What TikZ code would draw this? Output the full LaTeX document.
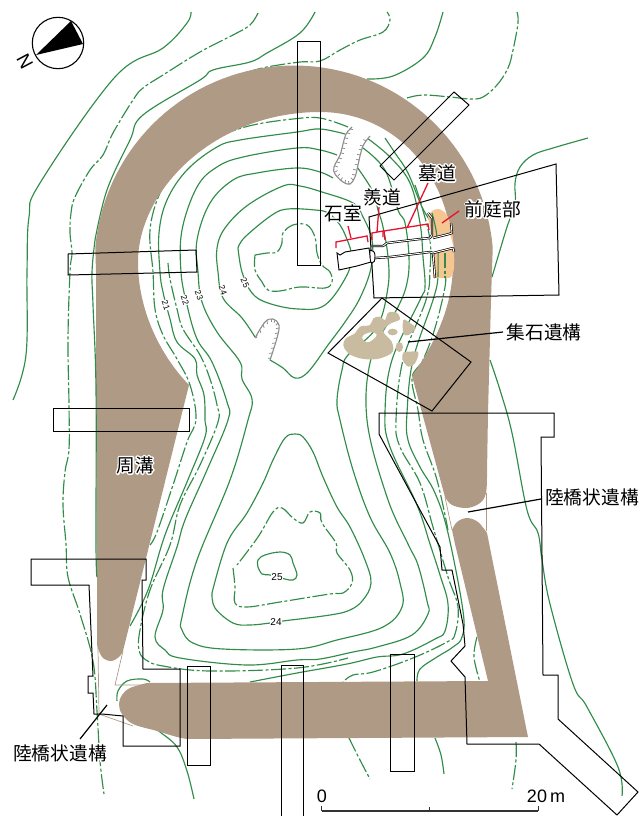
\documentclass[tikz,border=0pt]{standalone}
\usepackage{fontspec}
\setmainfont{Liberation Sans}
\newfontfamily\jp{Noto Sans CJK JP}
\definecolor{moat}{RGB}{175,154,133}
\definecolor{peach}{RGB}{245,198,146}
\definecolor{stonec}{RGB}{200,187,160}
\definecolor{cgreen}{RGB}{48,140,72}
\definecolor{redl}{RGB}{232,17,45}
\newcommand{\halotext}[1]{\leavevmode\rlap{\special{pdf:code 1 1 1 RG 1 1 1 rg 3 w 1 j 2 Tr}#1\special{pdf:code 0 Tr 0 0 0 RG 0 0 0 rg 1 w}}#1}
\tikzset{
 cline/.style={draw=cgreen,line width=1.15pt,line join=round},
 cdash/.style={cline,dash pattern=on 15pt off 2.5pt on 3pt off 2.5pt},
 trench/.style={draw=black,line width=1pt,line join=miter},
 redline/.style={draw=redl,line width=1.3pt},
 leader/.style={draw=black,line width=1.2pt},
 jplabel/.style={font=\jp\fontsize{18.7}{19}\selectfont,inner sep=0pt},
 height/.style={font=\fontsize{8.5}{9}\selectfont,fill=white,inner sep=.6pt},
 gully/.style={draw=gray!90,line width=1.1pt},
 gtick/.style={draw=gray!90,line width=.75pt},
 wall/.style={draw=black,line width=.7pt,double=white,double distance=.9pt,line join=round},
 smoothp/.style={smooth,tension=.62},
}
\begin{document}
\begin{tikzpicture}[x=1pt,y=-1pt]
\useasboundingbox (0,0) rectangle (641,816);
% contours: outer
\draw[cline] plot[smoothp] coordinates {(191,12)(187,23)(163,48)(115,77)(40,183)(29,217)(27,272)(26,355)(13,400)};
\draw[cdash] plot[smoothp] coordinates {(258,13)(250,25)(233,35)(200,52)(163,75)(143,88)(133,100)(113,133)(103,155)(90,170)(75,197)(71,213)(70,233)(72,253)(70,272)(68,339)(69,405)(69,449)(65,472)(63,505)(66,544)(68,577)(80,614)(93,661)(97,711)(100,761)(104,794)};
\draw[cline] plot[smoothp] coordinates {(315,12)(300,33)(267,53)(250,62)(213,70)(200,80)(143,115)(130,140)(107,190)(95,240)};
\draw[cdash] plot[smoothp] coordinates {(248,72)(267,67)(300,62)(320,61)(340,50)(360,40)(383,32)(390,20)(387,12)};
\draw[cline] plot[smoothp] coordinates {(443,12)(435,37)(423,58)(393,76)(367,79)};
\draw[cdash] plot[smoothp] coordinates {(407,98)(423,95)(450,97)(470,99)(483,97)(497,85)(508,68)(513,50)(518,23)(517,12)};
\draw[cline] plot[smoothp] coordinates {(588,138)(553,148)(533,155)(520,167)(515,183)(515,203)(507,227)(500,250)(492,277)};
\draw[cline] plot[smoothp] coordinates {(490,360)(500,390)(512,433)(527,510)(538,533)(542,560)(550,604)(573,684)(587,707)(618,767)(622,796)};
% left arcs round the round mound
\draw[cdash] plot[smoothp] coordinates {(348,127)(320,118)(293,119)(253,125)(223,135)(200,150)(177,170)(160,193)(150,230)(153,272)(155,309)(163,335)(177,359)(190,385)(196,419)(187,442)(173,485)(157,532)(150,545)};
\draw[cline] plot[smoothp] coordinates {(345,134)(320,129)(297,132)(240,140)(217,147)(187,170)(167,200)(159,233)(160,272)(163,292)(170,319)(177,342)(195,359)(197,375)(204,395)(205,420)(205,437)(187,482)(165,535)(148,590)(130,626)};
\draw[cdash] plot[smoothp] coordinates {(168,263)(170,279)(177,309)(183,329)(200,355)(210,379)(217,405)(218,422)(200,465)(180,505)(170,545)(150,590)(140,630)(139,650)(146,660)(163,666)(210,671)(297,668)(348,658)};
\draw[cline] plot[smoothp] coordinates {(337,155)(320,150)(297,148)(243,157)(217,167)(197,187)(182,230)(181,272)(187,305)(197,339)(212,362)(227,402)(228,420)(207,470)(185,520)(177,547)(163,590)(163,610)(155,637)(165,650)(180,658)(247,665)(297,660)(320,659)(353,652)(377,647)(412,635)(428,614)(427,601)(418,565)(408,544)(387,497)(367,420)(372,355)(398,307)(407,283)(409,257)(405,223)(398,210)(385,170)(363,148)};
\draw[cline] plot[smoothp] coordinates {(333,178)(320,172)(297,168)(257,173)(233,180)(210,203)(197,240)(198,272)(202,302)(217,332)(240,362)(242,379)(252,399)(248,420)(230,480)(197,560)(182,617)(182,630)(193,643)(223,649)(297,649)(337,640)(383,627)(402,607)(400,583)(390,553)(370,517)(353,470)(340,420)(337,400)(342,370)(348,355)(377,327)(388,287)(388,257)(383,227)(378,210)(372,190)(357,167)};
\draw[cline] plot[smoothp] coordinates {(255,337)(242,318)(223,298)(218,272)(217,248)(225,228)(248,205)(283,186)(300,186)(322,192)(353,203)(363,217)(372,240)(371,268)(360,298)(345,322)(328,345)(308,372)(295,378)(283,368)(270,360)};
\draw[cline] plot[smoothp] coordinates {(238,248)(245,237)(272,215)(288,209)(315,210)(328,213)(340,225)(348,242)(351,255)(347,275)(325,305)(298,309)(268,303)(252,293)(242,272)(238,248)};
\draw[cdash] plot[smoothp] coordinates {(255,255)(267,253)(277,252)(282,243)(283,233)(293,225)(307,225)(315,237)(317,253)(322,265)(330,272)(332,282)(325,288)(300,287)(280,291)(268,290)(262,282)(255,270)(255,255)};
% right side descending
\draw[cline] plot[smoothp] coordinates {(367,138)(390,157)(410,183)(420,223)(423,257)(425,287)(420,300)(392,360)(385,413)(390,447)(417,505)(430,544)(440,575)(448,604)(445,631)(435,639)(403,654)(377,657)(347,664)(297,673)(250,682)};
\draw[cline] plot[smoothp] coordinates {(150,682)(143,679)(127,681)(118,691)(117,701)};
\draw[cline] plot[smoothp] coordinates {(385,138)(395,153)(408,173)(422,207)(435,230)(438,250)(438,277)(433,300)(413,360)(407,413)(408,440)(420,467)(435,493)(448,533)(463,611)(462,637)(453,647)(437,657)(420,669)(417,681)};
\draw[cdash] plot[smoothp] coordinates {(415,185)(422,207)(430,240)(430,270)(426,300)(403,360)(396,420)(400,447)(420,483)(433,527)(448,577)(458,607)(455,634)(447,642)(413,658)(373,672)(353,675)(343,682)};
\draw[cdash] plot[smoothp] coordinates {(445,253)(445,270)(445,287)(435,328)(423,360)(412,378)(418,410)(423,440)(437,480)(448,530)};
\draw[cdash] plot[smoothp] coordinates {(477,637)(474,657)(480,682)};
% lower mound
\draw[cline] plot[smoothp] coordinates {(258,567)(258,560)(265,555)(280,552)(290,555)(293,563)(297,575)(293,580)(285,579)(270,575)(262,574)(258,567)};
\draw[cdash] plot[smoothp] coordinates {(233,568)(235,587)(235,603)(247,607)(280,602)(330,594)(343,593)(352,583)(350,570)(337,553)(336,543)(322,523)(320,513)(310,512)(303,523)(293,518)(282,508)(273,512)(258,537)(237,565)};
\draw[cline] plot[smoothp] coordinates {(212,593)(215,608)(233,623)(250,625)(270,623)(283,621)(330,615)(350,610)(363,600)(371,583)(365,560)(350,527)(337,507)(323,477)(313,452)(303,437)(295,434)(285,438)(273,460)(263,483)(247,513)(227,543)(212,593)};
% below the moat
\draw[cline] plot[smoothp] coordinates {(150,725)(160,732)(177,747)(187,771)(194,799)};
\draw[cdash] plot[smoothp] coordinates {(349,738)(360,760)(370,779)};
\draw[cline] plot[smoothp] coordinates {(435,738)(441,755)(444,774)};
\draw[cdash] plot[smoothp] coordinates {(516,742)(516,760)(512,789)};
% moat
\fill[moat] plot[smooth,tension=.6] coordinates {(97,645)(102,657)(111,661)(119,657)(123,651)} -- (189,385) .. controls (160,355) and (138,310) .. (138,262) .. controls (138,190) and (215,112) .. (320,112) .. controls (395,112) and (453,175) .. (453,262) .. controls (453,305) and (437,340) .. (412,376) -- plot[smooth,tension=.6] coordinates {(445,497)(452,505)(467,508)(480,503)(486,493)(487,473)} -- (488,413) -- (491,300) -- plot[domain=355:185,samples=70] ({294+199.5*cos(\x)},{265+199.5*sin(\x)}) -- (96,272) -- (96,412) -- (97,544) -- cycle;
\fill[moat] plot[smooth,tension=.6] coordinates {(452,530)(457,522)(467,518)(478,522)(487,533)} -- (528,737) -- plot[smooth,tension=.6] coordinates {(187,739)(177,737)(157,731)(133,724)(122,714)(119,704)(122,695)(130,688)(147,683)} -- (488,681) -- (455,544) -- cycle;
% thin outlines of the moat at the causeways
\draw[moat,line width=.7pt] (98,647) -- (99,714) -- (133,726);
\draw[moat,line width=.7pt] (123,651) -- (115,685) -- (147,685);
\draw[moat,line width=.7pt] (445,497) -- (452,530);
\draw[moat,line width=.7pt] (486,493) -- (486,531);
% contour over the moat edge
\draw[cline] plot[smoothp] coordinates {(95,240)(92,272)(93,305)(96,389)(96,544)(97,577)};
% forecourt
\fill[peach] plot[smooth,tension=.5] coordinates {(428,217)(432,211)(439,209)(447,215)(452,232)(454,250)(454,268)(451,277)(445,278)} -- (433,278) -- (433,240) -- cycle;
\draw[cline] plot[smoothp] coordinates {(432,213)(436,230)(438,250)(438,277)};
\draw[cdash] (445,253) -- (445,278);
% stones
\begin{scope}[shift={(320,300)},scale=1/3]
\fill[stonec,even odd rule] plot[smooth cycle,tension=.6] coordinates {(70,135)(78,115)(105,100)(120,80)(150,75)(160,55)(180,50)(195,60)(205,38)(230,38)(240,58)(222,66)(205,75)(190,95)(215,125)(218,155)(190,172)(160,178)(120,175)(85,160)}
 plot[smooth cycle,tension=.8] coordinates {(127,110)(150,97)(170,103)(160,118)(140,127)};
\fill[stonec] (218,96) ellipse [x radius=15,y radius=10];
\fill[stonec] plot[smooth cycle,tension=.6] coordinates {(250,60)(268,68)(287,85)(265,105)(250,100)};
\fill[stonec] (238,141) ellipse [x radius=11,y radius=15];
\fill[stonec] plot[smooth cycle,tension=.6] coordinates {(250,158)(270,155)(295,157)(285,190)(265,200)(248,180)};
\end{scope}
% gullies
\fill[white] plot[smooth,tension=.6] coordinates {(352,127)(346,134)(343,144)(340,155)(334,167)(335,174)(343,182)(350,184)(355,177)(358,165)(361,152)(364,144)(370,136)} -- cycle;
\draw[gully] plot[smooth,tension=.6] coordinates {(352,127)(346,134)(343,144)(340,155)(334,167)(335,174)(343,182)(350,184)(355,177)(358,165)(361,152)(364,144)(370,136)};
\foreach \tx/\ty/\dx/\dy in {350/129/3/.6,347/133/3/.6,345/138/3/.6,344/143/3/.6,342/148/3/.6,341/153/3/.6,339/158/3/.8,337/162/3/.8,335/166/3/1,335/172/2.5/-1.5,338/176/2/-2.2,341/180/1.5/-2.6,345/183/.5/-3,349/184/-.5/-3,353/180/-2/-2.2,355/175/-3/-.7,356/170/-3/-.7,358/165/-3/-.7,359/160/-3/-.7,360/155/-3/-.7,362/150/-3/-.7,363/146/-3/-.7,366/141/-2.6/-1.5}
 \draw[gtick] (\tx,\ty) -- ++(\dx,\dy);
\fill[white] plot[smooth,tension=.6] coordinates {(255,338)(265,322)(273,319)(279,325)(277,338)(270,360)} -- cycle;
\draw[gully] plot[smooth,tension=.6] coordinates {(255,338)(265,322)(273,319)(279,325)(277,338)(270,360)};
\foreach \tx/\ty/\dx/\dy in {257/335/-.5/3,260/330/.8/3,263/325/1.2/2.8,267/321/.6/3,271/319/0/3,275/320/-1/3,278/323/-2.2/2.2,279/328/-3/.6,278/333/-3/.6,277/338/-3/.4,275/343/-3/.4,274/348/-3/.4,272/353/-3/.4,271/358/-3/.4}
 \draw[gtick] (\tx,\ty) -- ++(\dx,\dy);
% trenches
\draw[trench] (297,42) -- (320,42) -- (320,265) -- (297,265) -- cycle;
\draw[trench] (68,254) -- (196,250) -- (197,272) -- (68,275) -- cycle;
\draw[trench] (454,92) -- (469,105) -- (394,180) -- (380,166) -- cycle;
\draw[trench] (369,217) -- (556,164) -- (559,295) -- (374,298) -- cycle;
\draw[trench] (382,298) -- (471,362) -- (432,411) -- (328,353) -- cycle;
\draw[trench] (53,408) -- (189,408) -- (189,431) -- (53,431) -- cycle;
\draw[trench] (379,413) -- (554,413) -- (554,437) -- (541,437) -- (543,675) -- (558,675) -- (558,719) -- (638,792) -- (617,815) -- (539,744) -- (467,744) -- (465,677) -- (451,661) -- (465,646) -- (463,624) -- (452,570) -- (442,570) -- (440,547) -- (379,434) -- cycle;
\draw[trench] (31,559) -- (146,559) -- (146,580) -- (142,580) -- (143,669) -- (180,669) -- (180,746) -- (123,746) -- (123,716) -- (102,714) -- (94,714) -- (93,693) -- (88,693) -- (88,676) -- (93,676) -- (89,585) -- (31,585) -- cycle;
\draw[trench] (187,666) -- (210,666) -- (210,765) -- (187,765) -- cycle;
\draw[trench] (281,816) -- (281,665) -- (303,665) -- (303,816);
\draw[trench] (390,654) -- (414,654) -- (414,771) -- (390,771) -- cycle;
% stone chamber and passage
\fill[white] (430,239) -- (450,234) -- (454,249) -- (433,253) -- cycle;
\draw[trench,fill=white,line width=.95pt] (337,253) -- (340,255) -- (345,252) -- (369,248) -- (371,262) -- (357,266) -- (339,270) -- cycle;
\draw[trench,fill=white,line width=.9pt] (370,250) .. controls (373,250) and (375,252) .. (375,256) .. controls (375,261) and (374,263) .. (372,263) .. controls (370,263) and (370,258) .. cycle;
\draw[wall] (371,246) -- (373,246) -- (383,246) -- (387,243) -- (420,239) -- (430,238) -- (432,235) -- (432,218) -- (428,213);
\draw[wall] (433,238) -- (449,234) -- (452,233) -- (451,223);
\draw[wall] (375,258) -- (390,257) -- (430,252) -- (433,253) -- (453,248) -- (454,252);
\draw[wall] (433,253) -- (435,278);
% red brackets
\draw[redline] (336,248) -- (336,242) -- (367,236) -- (368,242);
\draw[redline] (351,238) -- (348,226);
\draw[redline] (372,240) -- (372,233) -- (383,231) -- (383,237);
\draw[redline] (377,232) -- (379,207);
\draw[redline] (385,240) -- (384,231) -- (428,224) -- (429,230);
\draw[redline] (407,228) -- (428,183);
\draw[redline] (442,223) -- (459,211);
% leaders
\draw[leader] (408,342) -- (503,332);
\draw[leader] (468,512) -- (541,499);
\draw[leader] (107,705) -- (80,739);
% labels
\node[jplabel] (shitsu) at (343,213) {\halotext{石室}};
\node[jplabel] (sendo) at (382,197) {\halotext{羨道}};
\node[jplabel] (bodo) at (437,173) {\halotext{墓道}};
\node[jplabel] (zentei) at (493,209) {\halotext{前庭部}};
\node[jplabel] (shuseki) at (544,332) {\halotext{集石遺構}};
\node[jplabel] (rikuR) at (592,497) {\halotext{陸橋状遺構}};
\node[jplabel] (rikuL) at (60,753) {\halotext{陸橋状遺構}};
\node[jplabel] (shuko) at (135,465) {\halotext{周溝}};
\node[height,rotate=-70] (h21) at (166,305) {21};
\node[height,rotate=-70] (h22) at (185,300) {22};
\node[height,rotate=-70] (h23) at (199,295) {23};
\node[height,rotate=-70] (h24) at (223,290) {24};
\node[height,rotate=-65] (h25) at (245,283) {25};
\node[height,font=\fontsize{10}{10}\selectfont] (h25b) at (277,577) {25};
\node[height,font=\fontsize{10}{10}\selectfont] (h24b) at (276,622) {24};
% compass
\draw[fill=white,line width=1.1pt] (58,43) circle [radius=25.7];
\fill[black] (36,55) -- (71,21) -- (83,44) -- cycle;
\node[font=\fontsize{19}{19}\selectfont,rotate=118,inner sep=0pt] (north) at (25,62) {N};
% scale
\draw[draw=black!80,line width=2.1pt] (322,811) -- (538,811);
\draw[draw=black!80,line width=1pt] (321.5,806) -- (321.5,811) (429,807) -- (429,811) (538,806) -- (538,811);
\node[font=\fontsize{18}{18}\selectfont,inner sep=0pt] (zero) at (322,796) {0};
\node[font=\fontsize{18}{18}\selectfont,inner sep=0pt] (twenty) at (546,796) {20\,m};
\end{tikzpicture}
\end{document}
